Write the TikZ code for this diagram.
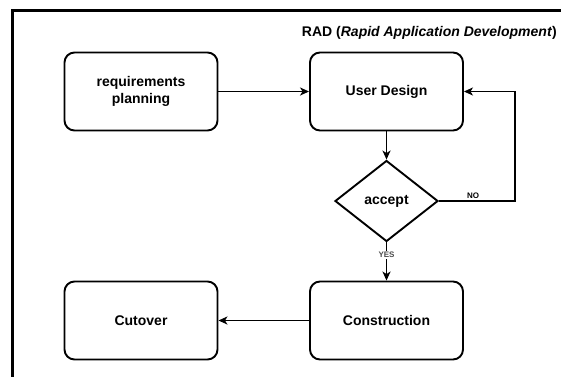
\documentclass[tikz,border=0pt]{standalone}
\usepackage{fontspec}
\setmainfont{Liberation Sans}
\usetikzlibrary{shapes.geometric,arrows.meta}
\tikzset{
  stepbox/.style={draw=black, line width=1.9pt, rounded corners=10pt, minimum width=153pt, minimum height=78pt, inner sep=0pt, align=center, font=\fontsize{14}{17.5}\selectfont\bfseries},
  decision/.style={draw=black, line width=1.9pt, diamond, minimum width=103pt, minimum height=81pt, inner sep=0pt, font=\fontsize{14}{17}\selectfont\bfseries},
  arr/.style={line width=1.9pt, -{Stealth[length=9pt,width=8pt,inset=2.5pt]}},
  lbl/.style={font=\fontsize{8}{9}\selectfont\bfseries, inner sep=1pt},
  frame/.style={line width=3pt}
}
\begin{document}
\begin{tikzpicture}[x=1pt,y=-1pt]
\useasboundingbox (0,0) rectangle (561,376);
\draw[frame] (12.5,380) -- (12.5,10) -- (565,10);
\node[anchor=east, font=\fontsize{14}{17}\selectfont\bfseries, inner sep=0pt] (title) at (557,33) {RAD (\textit{Rapid Application Development})};
\node[stepbox] (req) at (141,91.5) {requirements\\planning};
\node[stepbox] (ud) at (386.5,91.5) {User Design};
\node[decision] (acc) at (386.5,201) {accept};
\node[stepbox] (con) at (386.5,320.5) {Construction};
\node[stepbox] (cut) at (141,320.5) {Cutover};
\draw[arr] (req.east) -- (ud.west);
\draw[arr] (ud.south) -- (acc.north);
\draw[arr] (acc.east) -- node[lbl, pos=0.45, above] {NO} ++(76,0) coordinate (loop) |- (ud.east);
\draw[arr] (acc.south) -- node[lbl, pos=0.33, fill=white, text=black!70] {YES} (con.north);
\draw[arr] (con.west) -- (cut.east);
\end{tikzpicture}
\end{document}
